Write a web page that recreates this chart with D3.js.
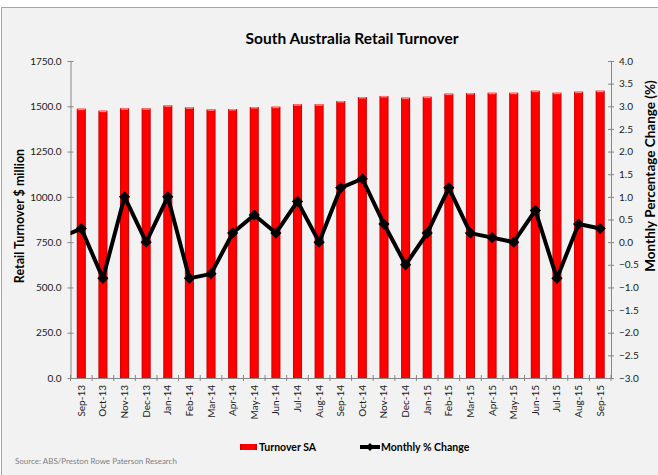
<!DOCTYPE html>
<html>
<head>
<meta charset="utf-8">
<script src="https://cdn.jsdelivr.net/npm/d3@7"></script>
<style>
  html, body { margin: 0; padding: 0; background: #ffffff; }
  svg { display: block; }
  text { font-family: Lato, "Open Sans", sans-serif; }
</style>
</head>
<body>
<svg id="chart" width="658" height="475"></svg>
<script>
const categories = ["Sep-13","Oct-13","Nov-13","Dec-13","Jan-14","Feb-14","Mar-14","Apr-14","May-14","Jun-14","Jul-14","Aug-14","Sep-14","Oct-14","Nov-14","Dec-14","Jan-15","Feb-15","Mar-15","Apr-15","May-15","Jun-15","Jul-15","Aug-15","Sep-15"];
const turnover = [1487,1476,1489,1489,1505,1494,1483,1485,1496,1498,1511,1511,1529,1551,1557,1548,1553,1570,1573,1575,1575,1586,1575,1581,1586];
const monthlyChange = [0.3,-0.8,1.0,0.0,1.0,-0.8,-0.7,0.2,0.6,0.2,0.9,0.0,1.2,1.4,0.4,-0.5,0.2,1.2,0.2,0.1,0.0,0.7,-0.8,0.4,0.3];
const priorChange = 0.1; // Aug-13, partly visible at the left edge
const leftTicks = [0,250,500,750,1000,1250,1500,1750];
const rightTicks = [-3,-2.5,-2,-1.5,-1,-0.5,0,0.5,1,1.5,2,2.5,3,3.5,4];

const svg = d3.select("#chart");
const W = 658, H = 475;
const m = {left: 70.5, right: 611, top: 61, bottom: 378};

// background panel
svg.append("rect").attr("x", 1.5).attr("y", 7.5).attr("width", W + 5).attr("height", H)
  .attr("fill", "#f2f2f2").attr("stroke", "#a6a6a6").attr("stroke-width", 1);

const x = d3.scaleBand().domain(categories).range([m.left, m.right]).paddingInner(0.58).paddingOuter(0.29);
const step = x.step();
const cx = d => x(d) + x.bandwidth() / 2;
const yL = d3.scaleLinear().domain([0, 1750]).range([m.bottom, m.top]);
const yR = d3.scaleLinear().domain([-3, 4]).range([m.bottom, m.top]);

const defs = svg.append("defs");
const grad = defs.append("linearGradient").attr("id", "barGrad").attr("x1", "0").attr("x2", "1").attr("y1", "0").attr("y2", "0");
grad.append("stop").attr("offset", "0%").attr("stop-color", "#c00000");
grad.append("stop").attr("offset", "18%").attr("stop-color", "#ff0000");
grad.append("stop").attr("offset", "82%").attr("stop-color", "#ff0000");
grad.append("stop").attr("offset", "100%").attr("stop-color", "#c00000");
defs.append("clipPath").attr("id", "plotClip").append("rect")
  .attr("x", m.left).attr("y", m.top - 10).attr("width", m.right - m.left).attr("height", m.bottom - m.top + 20);

// Bars
svg.append("g").selectAll("rect").data(turnover).join("rect")
  .attr("x", (d, i) => x(categories[i]))
  .attr("y", d => yL(d))
  .attr("width", x.bandwidth())
  .attr("height", d => yL(0) - yL(d))
  .attr("fill", "url(#barGrad)");
// bar top highlight
svg.append("g").selectAll("rect").data(turnover).join("rect")
  .attr("x", (d, i) => x(categories[i]) + 1)
  .attr("y", d => yL(d))
  .attr("width", x.bandwidth() - 2)
  .attr("height", 1.5)
  .attr("fill", "#ff8080");

// Axes
const axisColor = "#868686";
const leftAxis = svg.append("g").attr("transform", `translate(${m.left},0)`)
  .call(d3.axisLeft(yL).tickValues(leftTicks).tickFormat(d3.format(".1f")).tickSizeInner(3).tickSizeOuter(0).tickPadding(6));
const rightAxis = svg.append("g").attr("transform", `translate(${m.right},0)`)
  .call(d3.axisRight(yR).tickValues(rightTicks).tickFormat(d3.format(".1f")).tickSizeInner(3).tickSizeOuter(0).tickPadding(5));
rightAxis.selectAll(".tick line").attr("x2", 3).attr("x1", -3);
leftAxis.selectAll(".tick line").attr("x1", -3).attr("x2", 3);

const bottomAxis = svg.append("g").attr("transform", `translate(0,${m.bottom})`)
  .call(d3.axisBottom(x).tickSize(0).tickPadding(0));
bottomAxis.selectAll(".tick text")
  .attr("transform", "rotate(-90)")
  .attr("text-anchor", "end")
  .attr("x", -7).attr("y", 0).attr("dy", "0.35em");
// category boundary ticks
svg.append("g").selectAll("line").data(d3.range(categories.length + 1)).join("line")
  .attr("x1", i => m.left + i * step).attr("x2", i => m.left + i * step)
  .attr("y1", m.bottom - 3).attr("y2", m.bottom + 3)
  .attr("stroke", axisColor);

[leftAxis, rightAxis, bottomAxis].forEach(g => {
  g.select(".domain").attr("stroke", axisColor);
  g.selectAll(".tick line").attr("stroke", axisColor);
  g.selectAll(".tick text").attr("fill", "#1a1a1a").attr("font-size", 10).attr("font-family", "Lato, sans-serif");
});

// Line series (with lead-in point clipped at the left edge)
const linePts = [{px: cx(categories[0]) - step, v: priorChange}]
  .concat(monthlyChange.map((v, i) => ({px: cx(categories[i]), v})));
svg.append("path").datum(linePts)
  .attr("clip-path", "url(#plotClip)")
  .attr("d", d3.line().x(d => d.px).y(d => yR(d.v)))
  .attr("fill", "none").attr("stroke", "#000").attr("stroke-width", 4).attr("stroke-linejoin", "round");
const diamond = d3.symbol().type(d3.symbolDiamond2).size(80);
svg.append("g").selectAll("path").data(monthlyChange).join("path")
  .attr("transform", (d, i) => `translate(${cx(categories[i])},${yR(d)})`)
  .attr("d", diamond).attr("fill", "#000");

// Titles
svg.append("text").attr("x", 352).attr("y", 44).attr("text-anchor", "middle")
  .attr("font-size", 15.5).attr("font-weight", "bold").attr("fill", "#000")
  .text("South Australia Retail Turnover");
svg.append("text").attr("transform", "translate(24,216) rotate(-90)").attr("text-anchor", "middle")
  .attr("font-size", 12.5).attr("font-weight", "bold").attr("fill", "#000")
  .text("Retail Turnover $ million");
svg.append("text").attr("transform", "translate(655,176) rotate(-90)").attr("text-anchor", "middle")
  .attr("font-size", 13.5).attr("font-weight", "bold").attr("fill", "#000")
  .text("Monthly Percentage Change (%)");

// Legend
svg.append("rect").attr("x", 240).attr("y", 444).attr("width", 17).attr("height", 6).attr("fill", "url(#barGrad)");
svg.append("text").attr("x", 259).attr("y", 451).attr("font-size", 10.5).attr("font-weight", "bold").text("Turnover SA");
svg.append("line").attr("x1", 360).attr("x2", 380).attr("y1", 447).attr("y2", 447).attr("stroke", "#000").attr("stroke-width", 4);
svg.append("path").attr("transform", "translate(370,447)").attr("d", d3.symbol().type(d3.symbolDiamond2).size(40)).attr("fill", "#000");
svg.append("text").attr("x", 381).attr("y", 451).attr("font-size", 10.5).attr("font-weight", "bold").text("Monthly % Change");

// Source
svg.append("text").attr("x", 15).attr("y", 464).attr("font-size", 8).attr("fill", "#7f7f7f")
  .text("Source: ABS/Preston Rowe Paterson Research");
</script>
</body>
</html>
